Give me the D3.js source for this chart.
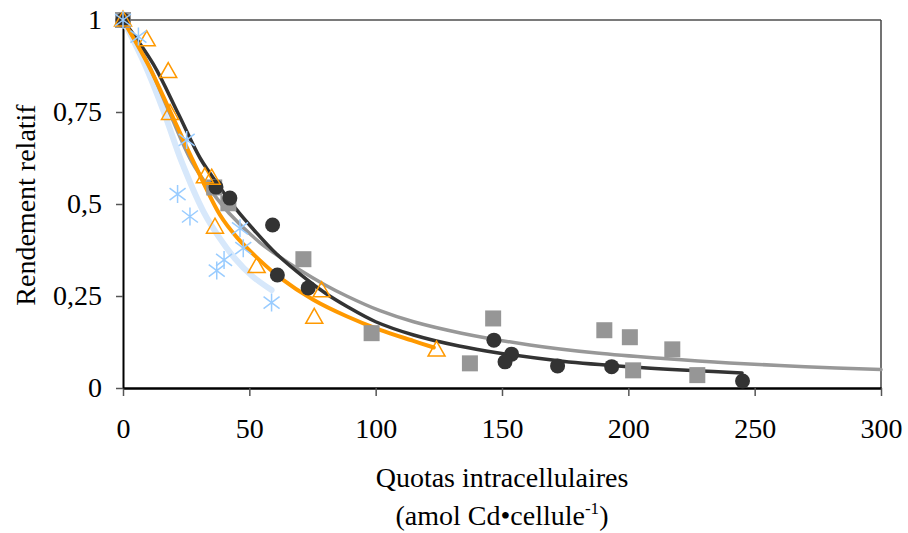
<!DOCTYPE html>
<html>
<head>
<meta charset="utf-8">
<script src="https://cdn.jsdelivr.net/npm/d3@7"></script>
<style>
  body { margin: 0; background: #fff; }
  svg text { font-family: "Liberation Serif", "Times New Roman", serif; fill: #000; }
</style>
</head>
<body>
<div id="chart"></div>
<script>
var svgWidth = 908;
var svgHeight = 533;

// plot box, in pixels
var plot = { left: 123, right: 881, top: 20, bottom: 388 };

// measured points (quota, relative yield)
var darkX = [0, 36.8, 42.3, 59.2, 61.1, 73.3, 146.8, 153.8, 151.2, 172.0, 193.4, 245.2];
var darkY = [1, 0.546, 0.516, 0.443, 0.307, 0.272, 0.130, 0.092, 0.071, 0.060, 0.058, 0.019];

var grayX = [0, 36.1, 41.7, 71.4, 98.4, 146.5, 137.3, 190.5, 200.6, 201.9, 217.4, 227.3];
var grayY = [1, 0.545, 0.502, 0.350, 0.149, 0.189, 0.067, 0.157, 0.138, 0.048, 0.105, 0.035];

var orangeX = [0, 9.4, 17.9, 18.6, 32.4, 35.1, 36.4, 52.9, 78.6, 75.7, 124.1];
var orangeY = [1, 0.946, 0.860, 0.746, 0.574, 0.570, 0.437, 0.330, 0.264, 0.192, 0.103];

var blueX = [0, 6.1, 25.2, 21.6, 26.5, 46.3, 47.6, 40.0, 37.1, 58.8];
var blueY = [1, 0.955, 0.674, 0.527, 0.466, 0.434, 0.380, 0.348, 0.319, 0.232];

// fitted curves
var darkFitX = [0, 12, 21.9, 30.5, 38.4, 44.3, 52, 60.8, 72.7, 80, 88.5, 100, 115, 133, 148, 174, 200, 227, 245];
var darkFitY = [1, 0.88, 0.745, 0.625, 0.545, 0.49, 0.428, 0.364, 0.295, 0.258, 0.222, 0.18, 0.144, 0.114, 0.096, 0.073, 0.058, 0.047, 0.041];

var grayFitX = [0, 10, 18.6, 27.2, 35, 42, 54.2, 60.8, 68.7, 80, 88.5, 101.7, 115, 134, 161, 187.5, 214, 240, 270, 300];
var grayFitY = [1, 0.88, 0.745, 0.615, 0.535, 0.475, 0.395, 0.362, 0.326, 0.28, 0.25, 0.21, 0.18, 0.149, 0.117, 0.095, 0.08, 0.068, 0.058, 0.05];

var orangeFitX = [0, 10, 19.3, 28.5, 38.4, 45, 52.9, 62.1, 75.3, 88.5, 101.7, 114.9, 123];
var orangeFitY = [1, 0.878, 0.742, 0.606, 0.47, 0.41, 0.355, 0.30, 0.24, 0.195, 0.158, 0.128, 0.11];

var blueFitX = [0, 8.7, 16.6, 23.2, 31.8, 38, 44.3, 51, 58.8];
var blueFitY = [1, 0.878, 0.742, 0.615, 0.48, 0.41, 0.352, 0.305, 0.266];

var xTicks = [0, 50, 100, 150, 200, 250, 300];
var yTicks = [0, 0.25, 0.5, 0.75, 1];
var yTickLabels = ["0", "0,25", "0,5", "0,75", "1"];

function zip(xs, ys) {
  return xs.map(function(x, i) { return [x, ys[i]]; });
}

var svg = d3.select("#chart")
  .append("svg")
  .attr("width", svgWidth)
  .attr("height", svgHeight);

var x = d3.scaleLinear().domain([0, 300]).range([plot.left, plot.right]);
var y = d3.scaleLinear().domain([0, 1]).range([plot.bottom, plot.top]);

// frame: top and right edges
svg.append("line")
  .attr("x1", plot.left).attr("x2", plot.right)
  .attr("y1", plot.top).attr("y2", plot.top)
  .attr("stroke", "#7a7a7a").attr("stroke-width", 2);
svg.append("line")
  .attr("x1", plot.right).attr("x2", plot.right)
  .attr("y1", plot.top).attr("y2", plot.bottom)
  .attr("stroke", "#444").attr("stroke-width", 1.5);

// x axis
var xAxis = svg.append("g")
  .attr("transform", `translate(0, ${plot.bottom})`)
  .call(d3.axisBottom(x).tickValues(xTicks).tickSize(8).tickSizeOuter(0).tickPadding(22));
xAxis.select(".domain").attr("stroke", "#000").attr("stroke-width", 2.5);
xAxis.selectAll(".tick line").attr("stroke", "#555").attr("stroke-width", 1.5);
xAxis.selectAll("text").style("font-size", "28px");

// y axis
var yAxis = svg.append("g")
  .attr("transform", `translate(${plot.left}, 0)`)
  .call(d3.axisLeft(y).tickValues(yTicks).tickSize(7).tickSizeOuter(0).tickPadding(14)
    .tickFormat(function(d, i) { return yTickLabels[i]; }));
yAxis.select(".domain").attr("stroke", "#000").attr("stroke-width", 2);
yAxis.selectAll(".tick line").attr("stroke", "#555").attr("stroke-width", 1.5);
yAxis.selectAll("text").style("font-size", "28px");

// axis titles
svg.append("text")
  .attr("transform", "translate(35, 205) rotate(-90)")
  .attr("text-anchor", "middle")
  .style("font-size", "28px")
  .text("Rendement relatif");

svg.append("text")
  .attr("x", 502).attr("y", 487)
  .attr("text-anchor", "middle")
  .style("font-size", "28px")
  .text("Quotas intracellulaires");

var sub = svg.append("text")
  .attr("x", 502).attr("y", 525)
  .attr("text-anchor", "middle")
  .style("font-size", "28px");
sub.append("tspan").text("(amol Cd\u2022cellule");
sub.append("tspan").attr("dy", -11).style("font-size", "17px").text("-1");
sub.append("tspan").attr("dy", 11).text(")");

// fitted lines
var line = d3.line()
  .x(d => x(d[0]))
  .y(d => y(d[1]))
  .curve(d3.curveCatmullRom.alpha(0.5));

var fits = [
  { pts: zip(blueFitX, blueFitY), color: "#d7e8fb", width: 6 },
  { pts: zip(grayFitX, grayFitY), color: "#989898", width: 3.5 },
  { pts: zip(darkFitX, darkFitY), color: "#333333", width: 3.5 },
  { pts: zip(orangeFitX, orangeFitY), color: "#ff9900", width: 4 }
];

svg.selectAll(".fit")
  .data(fits)
  .enter()
  .append("path")
  .attr("class", "fit")
  .attr("d", d => line(d.pts))
  .attr("fill", "none")
  .attr("stroke", d => d.color)
  .attr("stroke-width", d => d.width)
  .attr("stroke-linecap", "round");

// gray squares
svg.selectAll(".sq")
  .data(zip(grayX, grayY))
  .enter()
  .append("rect")
  .attr("x", d => x(d[0]) - 8)
  .attr("y", d => y(d[1]) - 8)
  .attr("width", 16)
  .attr("height", 16)
  .attr("fill", "#969696");

// dark circles
svg.selectAll(".dot")
  .data(zip(darkX, darkY))
  .enter()
  .append("circle")
  .attr("cx", d => x(d[0]))
  .attr("cy", d => y(d[1]))
  .attr("r", 7.5)
  .attr("fill", "#333333");

// open orange triangles
svg.selectAll(".tri")
  .data(zip(orangeX, orangeY))
  .enter()
  .append("path")
  .attr("transform", d => `translate(${x(d[0])}, ${y(d[1])})`)
  .attr("d", "M0,-9L8.5,6L-8.5,6Z")
  .attr("fill", "none")
  .attr("stroke", "#ff9900")
  .attr("stroke-width", 1.5);

// light blue asterisks
svg.selectAll(".star")
  .data(zip(blueX, blueY))
  .enter()
  .append("path")
  .attr("transform", d => `translate(${x(d[0])}, ${y(d[1])})`)
  .attr("d", "M0,-9L0,9M-8,-6L8,6M-8,6L8,-6")
  .attr("fill", "none")
  .attr("stroke", "#99ccff")
  .attr("stroke-width", 1.5);
</script>
</body>
</html>
